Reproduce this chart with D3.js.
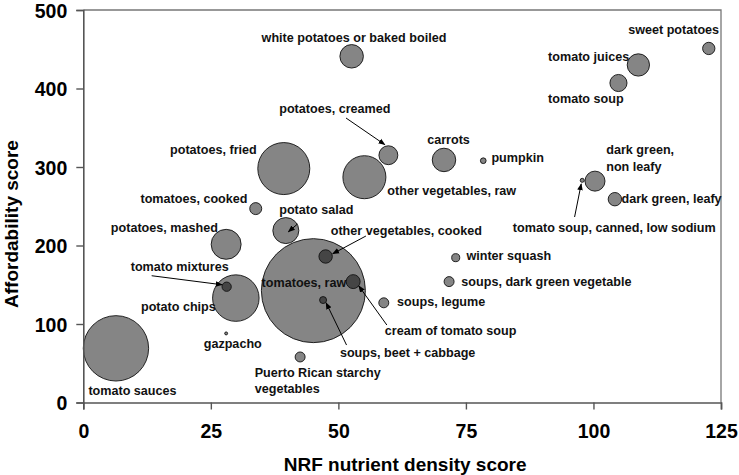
<!DOCTYPE html>
<html>
<head>
<meta charset="utf-8">
<script src="https://cdn.jsdelivr.net/npm/d3@7"></script>
<style>
  html, body { margin: 0; padding: 0; background: #fff; }
  text { font-family: Arial, "Liberation Sans", sans-serif; font-weight: bold; }
</style>
</head>
<body>
<svg id="chart" width="739" height="475"></svg>
<script>
// ---- Data ----
const foods = [
  "white potatoes or baked boiled", "sweet potatoes", "tomato juices", "tomato soup",
  "potatoes, creamed", "carrots", "pumpkin", "dark green, non leafy",
  "tomato soup, canned, low sodium", "dark green, leafy", "potatoes, fried",
  "other vegetables, raw", "tomatoes, cooked", "potato salad", "potatoes, mashed",
  "tomato mixtures", "potato chips", "gazpacho", "tomato sauces", "tomatoes, raw",
  "other vegetables, cooked", "cream of tomato soup", "soups, beet + cabbage",
  "Puerto Rican starchy vegetables", "winter squash", "soups, dark green vegetable",
  "soups, legume"
];
const nrfScore = [
  52.6, 122.6, 108.8, 104.9,
  59.8, 70.7, 78.4, 100.3,
  97.8, 104.2, 39.3,
  55.1, 33.8, 39.7, 28.0,
  28.1, 29.9, 28.0, 6.4, 45.1,
  47.5, 52.9, 47.0,
  42.5, 73.0, 71.7,
  58.9
];
const affordability = [
  441, 451, 430, 407,
  315, 309, 308, 282,
  283, 259, 298,
  287, 247, 219, 201.5,
  147.5, 133, 88, 69, 142.5,
  186, 154, 130.5,
  58, 184.5, 154,
  127
];
const consumption = [
  5.1, 1.4, 4.6, 2.7,
  3.3, 5.1, 0.3, 3.7,
  0.15, 1.66, 25,
  17.1, 1.33, 6.25, 8.3,
  0.8, 20, 0.08, 39.5, 100,
  1.66, 1.8, 0.45,
  0.92, 0.6, 0.92,
  0.92
];
const xTicks = [0, 25, 50, 75, 100, 125];
const yTicks = [0, 100, 200, 300, 400, 500];

// label lines: [text, x, y] in data units (left-aligned, vertically centred)
const labelLines = [
  ["white potatoes or baked boiled", 34.95, 464.3],
  ["sweet potatoes", 106.8, 474.5],
  ["tomato juices", 91.1, 440.5],
  ["tomato soup", 91.1, 386.2],
  ["potatoes, creamed", 38.4, 373.9],
  ["carrots", 67.4, 334.4],
  ["pumpkin", 80.0, 311.1],
  ["dark green,", 102.5, 321.7],
  ["non leafy", 102.5, 300.4],
  ["other vegetables, raw", 59.6, 269.4],
  ["dark green, leafy", 105.5, 259.2],
  ["tomato soup, canned, low sodium", 84.2, 222.7],
  ["potatoes, fried", 17.0, 321.7],
  ["tomatoes, cooked", 11.2, 259.2],
  ["potato salad", 38.4, 245.2],
  ["potatoes, mashed", 5.4, 222.7],
  ["other vegetables, cooked", 48.5, 218.5],
  ["tomato mixtures", 9.3, 173],
  ["potato chips", 11.3, 121.3],
  ["gazpacho", 23.6, 74.1],
  ["tomato sauces", 1.0, 15.0],
  ["tomatoes, raw", 34.95, 151.8],
  ["Puerto Rican starchy", 33.6, 37.2],
  ["vegetables", 33.6, 16.8],
  ["soups, beet + cabbage", 50.3, 63.4],
  ["cream of tomato soup", 59.1, 91.1],
  ["winter squash", 75.1, 186.6],
  ["soups, dark green vegetable", 74.1, 153.9],
  ["soups, legume", 61.5, 127.6]
];
// arrows: [x1, y1, x2, y2] in data units
const arrows = [
  [51.5, 362.4, 59.1, 328.5],
  [96.3, 236.3, 97.6, 278.5],
  [42.0, 227.4, 40.2, 217.5],
  [55.4, 212.1, 48.9, 189.5],
  [13.4, 161.5, 27.2, 150.0],
  [51.6, 73.2, 47.6, 127.0],
  [59.5, 98.7, 54.0, 148.5]
];

// ---- Layout ----
const svg = d3.select("#chart");
const mLeft = 83.3, mRight = 721, mTop = 10, mBottom = 402.5;
const x = d3.scaleLinear().domain([0, 125]).range([mLeft, mRight]);
const y = d3.scaleLinear().domain([0, 500]).range([mBottom, mTop]);
const r = d3.scaleSqrt().domain([0, 100]).range([0, 52]);

const axisColor = "#555";

// frame (top + right)
svg.append("path")
  .attr("d", `M${mLeft},${mTop}H${mRight}V${mBottom}`)
  .attr("fill", "none").attr("stroke", "#777").attr("stroke-width", 1.3);

// bubbles
const data = foods.map((f, i) => ({ name: f, x: nrfScore[i], y: affordability[i], s: consumption[i] }))
  .sort((a, b) => b.s - a.s);

svg.append("g").selectAll("circle").data(data).join("circle")
  .attr("cx", d => x(d.x)).attr("cy", d => y(d.y)).attr("r", d => r(d.s))
  .attr("fill", "#000").attr("fill-opacity", 0.48)
  .attr("stroke", "#111").attr("stroke-width", 0.9);

// axes
const xAxis = svg.append("g").attr("transform", `translate(0,${mBottom})`)
  .call(d3.axisBottom(x).tickValues(xTicks).tickSize(7).tickPadding(15).tickFormat(d3.format("d")));
const yAxis = svg.append("g").attr("transform", `translate(${mLeft},0)`)
  .call(d3.axisLeft(y).tickValues(yTicks).tickSize(7).tickPadding(9).tickFormat(d3.format("d")));
[xAxis, yAxis].forEach(g => {
  g.select(".domain").attr("stroke", axisColor).attr("stroke-width", 1.6);
  g.selectAll(".tick line").attr("stroke", axisColor).attr("stroke-width", 1.4);
  g.selectAll(".tick text").attr("fill", "#000").style("font-size", "19.5px")
    .style("font-family", "Arial, 'Liberation Sans', sans-serif").style("font-weight", "bold");
});
yAxis.selectAll(".tick text").attr("dy", "0.36em");

// axis titles
svg.append("text").attr("x", (mLeft + mRight) / 2 + 3).attr("y", 464)
  .attr("text-anchor", "middle").attr("dominant-baseline", "central")
  .style("font-size", "19px").text("NRF nutrient density score");
svg.append("text").attr("transform", `translate(11,224) rotate(-90)`)
  .attr("text-anchor", "middle").attr("dominant-baseline", "central")
  .style("font-size", "19px").text("Affordability score");

// arrows
const defs = svg.append("defs");
defs.append("marker").attr("id", "ah").attr("viewBox", "0 0 10 10")
  .attr("refX", 9).attr("refY", 5).attr("markerWidth", 7).attr("markerHeight", 7)
  .attr("markerUnits", "userSpaceOnUse").attr("orient", "auto")
  .append("path").attr("d", "M0,1L10,5L0,9Z").attr("fill", "#000");

svg.append("g").selectAll("line").data(arrows).join("line")
  .attr("x1", d => x(d[0])).attr("y1", d => y(d[1]))
  .attr("x2", d => x(d[2])).attr("y2", d => y(d[3]))
  .attr("stroke", "#000").attr("stroke-width", 1)
  .attr("marker-end", "url(#ah)");

// labels
svg.append("g").selectAll("text").data(labelLines).join("text")
  .attr("x", d => x(d[1])).attr("y", d => y(d[2]))
  .attr("dominant-baseline", "central")
  .style("font-size", "12.6px").attr("fill", "#111")
  .text(d => d[0]);
</script>
</body>
</html>
